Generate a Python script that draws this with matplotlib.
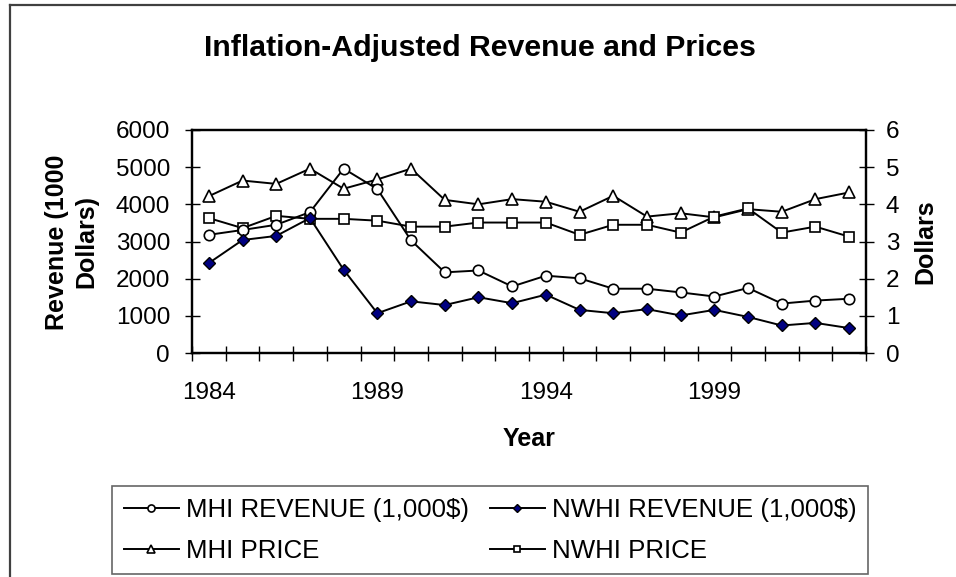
import numpy as np
import matplotlib
matplotlib.use('Agg')
import matplotlib.pyplot as plt
from matplotlib.lines import Line2D

plt.rcParams['font.family'] = ['Liberation Sans', 'DejaVu Sans']

# data
years = list(range(1984, 2004))
mhi_revenue = [3180, 3310, 3450, 3790, 4960, 4410, 3030, 2170, 2220, 1790,
               2080, 2010, 1730, 1730, 1630, 1520, 1750, 1330, 1410, 1460]
nwhi_revenue = [2420, 3040, 3150, 3630, 2240, 1070, 1390, 1290, 1500, 1340,
                1570, 1160, 1070, 1180, 1010, 1160, 970, 740, 810, 670]
mhi_price = [4.22, 4.64, 4.55, 4.96, 4.42, 4.67, 4.96, 4.12, 4.00, 4.14,
             4.07, 3.80, 4.23, 3.67, 3.76, 3.65, 3.87, 3.80, 4.14, 4.32]
nwhi_price = [3.63, 3.36, 3.69, 3.61, 3.61, 3.56, 3.40, 3.40, 3.51, 3.51,
              3.51, 3.18, 3.45, 3.45, 3.24, 3.67, 3.89, 3.24, 3.40, 3.13]
label_years = [1984, 1989, 1994, 1999]

W, H = 956, 577
fig = plt.figure(figsize=(W / 100, H / 100), dpi=100)

# plot area
ax = fig.add_axes([192 / W, 1 - 353 / H, (866 - 192) / W, (353 - 130) / H])
ax2 = ax.twinx()
ax.set_zorder(ax2.get_zorder() + 1)
ax.patch.set_visible(False)

x = np.arange(len(years))
lw = 1.4
l1, = ax.plot(x, mhi_revenue, color='black', lw=lw, marker='o', ms=7.5,
              mfc='white', mec='black', mew=1.2, label='MHI REVENUE (1,000$)')
l2, = ax.plot(x, nwhi_revenue, color='black', lw=lw, marker='D', ms=6.5,
              mfc='#000080', mec='black', mew=1.0, label='NWHI REVENUE (1,000$)')
l3, = ax2.plot(x, mhi_price, color='black', lw=lw, marker='^', ms=9,
               mfc='white', mec='black', mew=1.2, label='MHI PRICE')
l4, = ax2.plot(x, nwhi_price, color='black', lw=lw, marker='s', ms=7,
               mfc='white', mec='black', mew=1.2, label='NWHI PRICE')

ax.set_xlim(-0.5, len(years) - 0.5)
ax.set_ylim(0, 6000)
ax2.set_ylim(0, 6)
ax.set_yticks(range(0, 6001, 1000))
ax2.set_yticks(range(0, 7))

# tick marks on category boundaries, labels on every fifth category
ax.set_xticks(np.arange(-0.5, len(years), 1.0))
ax.set_xticklabels([])
ax.set_xticks([years.index(y) for y in label_years], minor=True)
ax.set_xticklabels([str(y) for y in label_years], minor=True)
ax.tick_params(axis='x', which='major', direction='inout', length=10.8, width=1.0)
ax.tick_params(axis='x', which='minor', length=0, pad=21, labelsize=17.5)
ax.tick_params(axis='y', direction='inout', length=10.8, width=1.0, pad=10.4, labelsize=17.5)
ax2.tick_params(axis='y', direction='inout', length=10.8, width=1.0, pad=9, labelsize=17.5)

for a in (ax, ax2):
    for s in a.spines.values():
        s.set_linewidth(1.6)
        s.set_color('black')

# texts
fig.text(480 / W, 1 - 48 / H, 'Inflation-Adjusted Revenue and Prices',
         ha='center', va='center', fontsize=21.8, fontweight='bold')
fig.text(72 / W, 1 - 242 / H, 'Revenue (1000\nDollars)', rotation=90,
         ha='center', va='center', multialignment='center',
         fontsize=18, fontweight='bold', linespacing=1.3)
fig.text(925 / W, 1 - 242 / H, 'Dollars', rotation=90, ha='center', va='center',
         fontsize=18, fontweight='bold')
fig.text(529 / W, 1 - 439 / H, 'Year', ha='center', va='center',
         fontsize=18, fontweight='bold')

# legend
leg = fig.legend(handles=[l1, l3, l2, l4], ncol=2, loc='upper left',
                 bbox_to_anchor=(112 / W, 1 - 486 / H), bbox_transform=fig.transFigure,
                 fontsize=18.6, frameon=True, fancybox=False, borderpad=0.45,
                 handlelength=2.13, handletextpad=0.27, columnspacing=0.81,
                 labelspacing=0.66, markerscale=0.68, borderaxespad=0)
leg.get_frame().set_edgecolor('#404040')
leg.get_frame().set_linewidth(1.2)

# outer chart border (top and left only)
fig.add_artist(Line2D([10 / W, 1], [1 - 5 / H, 1 - 5 / H], transform=fig.transFigure,
                      color='#404040', lw=1.6))
fig.add_artist(Line2D([10 / W, 10 / W], [0, 1 - 5 / H], transform=fig.transFigure,
                      color='#404040', lw=1.6))

fig.savefig('out.png', dpi=100)
